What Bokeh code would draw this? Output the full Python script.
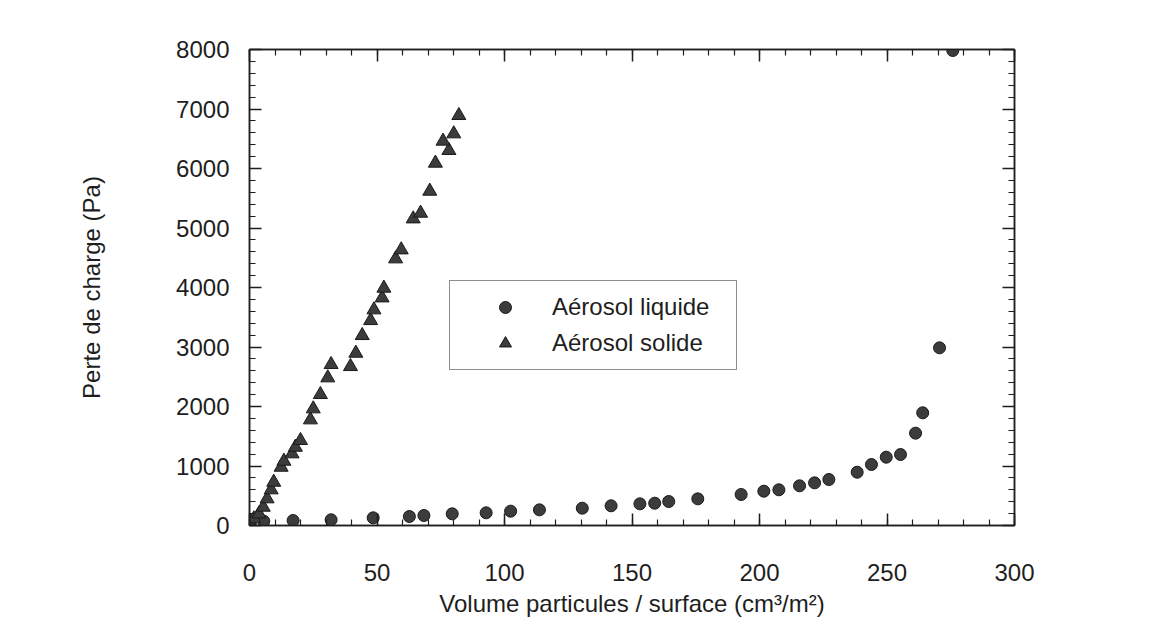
from bokeh.plotting import figure
from bokeh.models import LinearAxis, SingleIntervalTicker, Range1d, Legend, LegendItem
from bokeh.embed import file_html
from bokeh.resources import INLINE

# Aérosol liquide (circles)
liquid_x = [0.4, 5.6, 17.1, 32.0, 48.5, 62.7, 68.4, 79.5, 92.8, 102.4, 113.7, 130.5,
            141.8, 153.1, 158.9, 164.4, 175.8, 192.8, 201.7, 207.6, 215.7, 221.6,
            227.2, 238.3, 243.9, 249.7, 255.3, 261.2, 264.0, 270.6, 275.8]
liquid_y = [72, 72, 84, 96, 129, 151, 168, 196, 213, 241, 263, 291,
            331, 364, 375, 403, 448, 521, 577, 600, 667, 717,
            773, 896, 1025, 1148, 1193, 1552, 1894, 2986, 7983]

# Aérosol solide (triangles)
solid_x = [0, 1.7, 3.7, 5.4, 6.9, 8.5, 9.5, 12.4, 13.5, 16.7, 18.0, 20.0, 23.9, 25.0,
           27.8, 30.7, 32.0, 39.6, 41.7, 44.2, 47.5, 48.8, 52.0, 52.7, 57.3, 59.5,
           64.2, 67.1, 70.7, 72.9, 78.2, 75.9, 80.1, 82.1]
solid_y = [72, 112, 196, 308, 449, 600, 728, 980, 1081, 1205, 1316, 1429, 1776, 1961,
           2202, 2482, 2706, 2672, 2896, 3193, 3445, 3625, 3826, 3989, 4482, 4633,
           5154, 5249, 5619, 6090, 6303, 6460, 6583, 6891]

x_title = "Volume particules / surface (cm\u00b3/m\u00b2)"
y_title = "Perte de charge (Pa)"
labels = ["Aérosol liquide", "Aérosol solide"]

FONT = "Liberation Sans"
INK = "#1e1e1e"

p = figure(width=1149, height=620, output_backend="svg", toolbar_location=None,
           x_range=Range1d(0, 300), y_range=Range1d(0, 8000),
           x_axis_type=None, y_axis_type=None,
           min_border_left=249, min_border_right=135, min_border_top=49, min_border_bottom=95)
p.frame_width = 765
p.frame_height = 476
p.grid.visible = False
p.outline_line_color = INK
p.outline_line_width = 1.5
p.background_fill_color = "white"
p.border_fill_color = "white"

xt = SingleIntervalTicker(interval=50, num_minor_ticks=5)
yt = SingleIntervalTicker(interval=1000, num_minor_ticks=5)

xb = LinearAxis(ticker=xt, axis_label=x_title)
xa = LinearAxis(ticker=xt)
yl = LinearAxis(ticker=yt, axis_label=y_title)
yr = LinearAxis(ticker=yt)
p.add_layout(xb, "below")
p.add_layout(xa, "above")
p.add_layout(yl, "left")
p.add_layout(yr, "right")

for ax in (xb, xa, yl, yr):
    ax.major_tick_in = 12
    ax.major_tick_out = 0
    ax.minor_tick_in = 6
    ax.minor_tick_out = 0
    ax.axis_line_color = INK
    ax.axis_line_width = 1.5
    ax.major_tick_line_color = INK
    ax.major_tick_line_width = 1.5
    ax.minor_tick_line_color = INK
    ax.minor_tick_line_width = 1.2
    ax.major_label_text_font = FONT
    ax.major_label_text_font_size = "24px"
    ax.major_label_text_color = INK
    ax.axis_label_text_font = FONT
    ax.axis_label_text_font_size = "24px"
    ax.axis_label_text_font_style = "normal"
    ax.axis_label_text_color = INK

# top and right axes: ticks only, no labels drawn
for ax in (xa, yr):
    ax.major_label_text_color = None
    ax.major_label_standoff = 0

xb.major_label_standoff = 38
xb.axis_label_standoff = 6
yl.major_label_standoff = 20
yl.axis_label_standoff = 68

r1 = p.scatter(liquid_x, liquid_y, marker="circle", size=12,
               fill_color="#3c3c3c", line_color="#1a1a1a", line_width=1)
r2 = p.scatter(solid_x, solid_y, marker="triangle", size=14,
               fill_color="#3c3c3c", line_color="#1a1a1a", line_width=1)

legend = Legend(items=[LegendItem(label=labels[0], renderers=[r1]),
                       LegendItem(label=labels[1], renderers=[r2])],
                location=(200, 155), orientation="vertical")
legend.border_line_color = INK
legend.border_line_width = 1.5
legend.background_fill_color = "white"
legend.background_fill_alpha = 1
legend.label_text_font = FONT
legend.label_text_font_size = "24px"
legend.label_text_color = INK
legend.glyph_height = 30
legend.glyph_width = 88
legend.label_height = 30
legend.label_width = 173
legend.label_standoff = 3
legend.padding = 11
legend.spacing = 6
legend.margin = 0
p.add_layout(legend, "center")

open("out.html", "w").write(file_html(p, INLINE))
